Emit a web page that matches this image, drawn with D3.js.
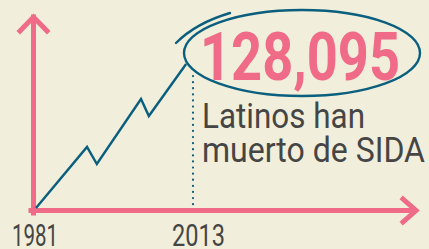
<!DOCTYPE html>
<html>
<head>
<meta charset="utf-8">
<script src="https://cdn.jsdelivr.net/npm/d3@7"></script>
<style>
  html, body { margin: 0; padding: 0; background: #f1eedb; }
  svg { display: block; }
</style>
</head>
<body>
<div id="chart"></div>
<script>
// cumulative deaths
const years = [1981, 1991.4, 1993.4, 2002.4, 2004.0, 2011.6];
const deaths = [0, 54300, 39100, 97000, 81800, 128095];
const tickYears = [1981, 2013];
const tickLabels = ["1981", "2013"];
const total = "128,095";
const caption = ["Latinos han", "muerto de SIDA"];

const width = 429, height = 249;
const pink = "#ef6b87", teal = "#0b5f7e", ink = "#454545";

const svg = d3.select("#chart").append("svg")
    .attr("width", width)
    .attr("height", height);

const x = d3.scaleLinear().domain([1981, 2013]).range([36, 193]);
const y = d3.scaleLinear().domain([0, 128095]).range([208, 64]);

const base = 210.5, axisX = 33.5;

// axes drawn by hand as arrows
svg.append("path")
   .attr("d", `M${axisX},${base + 2.5}V17 M20,31 L${axisX},17 L47,31`)
   .attr("fill", "none")
   .attr("stroke", pink)
   .attr("stroke-width", 5)
   .attr("stroke-linecap", "square");

svg.append("path")
   .attr("d", `M${axisX - 2.5},${base}H415 M403,199 L416,${base} L403,222`)
   .attr("fill", "none")
   .attr("stroke", pink)
   .attr("stroke-width", 5)
   .attr("stroke-linecap", "square");

// dotted guide at 2013
svg.append("line")
   .attr("x1", x(2013)).attr("x2", x(2013))
   .attr("y1", 76).attr("y2", base - 2)
   .attr("stroke", teal)
   .attr("stroke-width", 2.2)
   .attr("stroke-linecap", "round")
   .attr("stroke-dasharray", "0.1,6");

svg.append("path")
   .datum(years.map((yr, i) => ({ yr, v: deaths[i] })))
   .attr("fill", "none")
   .attr("stroke", teal)
   .attr("stroke-width", 2.4)
   .attr("stroke-linejoin", "miter")
   .attr("d", d3.line().x(d => x(d.yr)).y(d => y(d.v)));

// hand drawn circle round the number
svg.append("ellipse")
   .attr("cx", 302).attr("cy", 53)
   .attr("rx", 118).attr("ry", 43)
   .attr("fill", "none")
   .attr("stroke", teal)
   .attr("stroke-width", 2.4);

svg.append("path")
   .attr("d", "M176,43 Q196,23 230,13")
   .attr("fill", "none")
   .attr("stroke", teal)
   .attr("stroke-width", 2.4)
   .attr("stroke-linecap", "round");

svg.selectAll("text.tick")
   .data(tickYears)
   .join("text")
   .attr("class", "tick")
   .attr("x", (d, i) => x(d) - (i === 0 ? 24 : 21))
   .attr("y", 246)
   .attr("textLength", (d, i) => i === 0 ? 46 : 53)
   .attr("lengthAdjust", "spacingAndGlyphs")
   .attr("font-family", "Roboto, sans-serif")
   .attr("font-size", 32)
   .attr("fill", ink)
   .text((d, i) => tickLabels[i]);

svg.append("text")
   .attr("x", 200).attr("y", 80)
   .attr("textLength", 200)
   .attr("lengthAdjust", "spacingAndGlyphs")
   .attr("font-family", "Roboto, sans-serif")
   .attr("font-weight", "bold")
   .attr("font-size", 66)
   .attr("fill", pink)
   .text(total);

svg.selectAll("text.cap")
   .data(caption)
   .join("text")
   .attr("class", "cap")
   .attr("x", 202)
   .attr("y", (d, i) => 128 + i * 34)
   .attr("textLength", (d, i) => i === 0 ? 163 : 223)
   .attr("lengthAdjust", "spacingAndGlyphs")
   .attr("font-family", "Roboto, sans-serif")
   .attr("font-size", 35)
   .attr("fill", ink)
   .text(d => d);
</script>
</body>
</html>
